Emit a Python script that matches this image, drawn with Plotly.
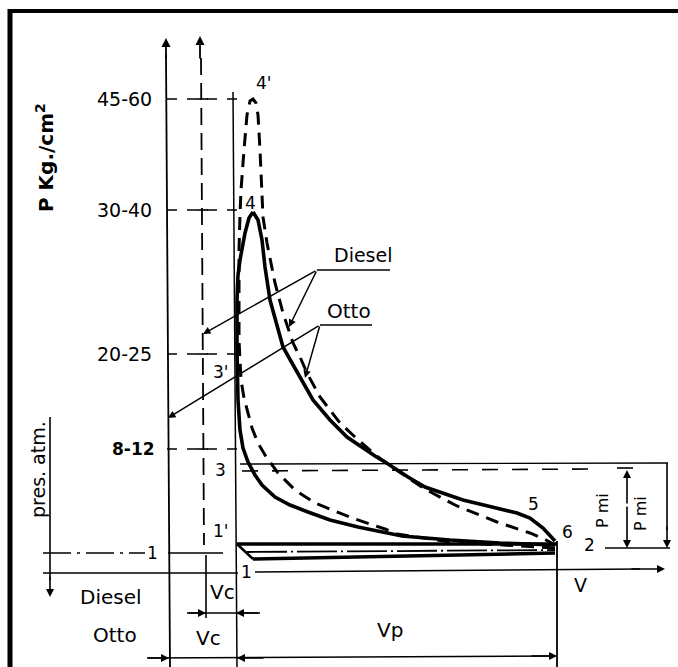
import plotly.graph_objects as go

# ---------------- data (drawing units: x = volume position, y = pressure position, measured downward) ----
level_labels = ["45-60", "30-40", "20-25", "8-12"]
level_y = [99, 210, 354, 449]
atm_y = 553
v_zero_y = 572

# Otto cycle (solid)
otto_comp_x = [555, 500, 450, 402, 358, 330, 308, 290, 275, 262, 255, 248, 243, 240, 238, 237, 237, 238, 240, 245, 249, 253]
otto_comp_y = [545, 543, 540, 536, 527, 520, 512, 505, 497, 485, 475, 462, 448, 430, 400, 350, 300, 275, 260, 233, 218, 212]
otto_exp_x = [253, 258, 262, 265, 270, 277, 283, 292, 302, 313, 330, 347, 375, 385, 408, 425, 463, 500, 517, 530, 543, 555]
otto_exp_y = [212, 220, 240, 267, 300, 327, 347, 363, 380, 400, 420, 437, 456, 462, 477, 487, 500, 509, 513, 518, 528, 541]

# Diesel cycle (dashed)
diesel_x = [555, 450, 397, 385, 352, 315, 295, 278, 265, 258, 252, 248, 244, 241, 239, 239, 239, 240, 241, 244, 247, 250, 253,
            256, 258, 260, 262, 263, 267, 270, 275, 283, 288, 293, 300, 307, 320, 330, 340, 355, 378, 385, 423, 457, 497, 530, 548, 555]
diesel_y = [548, 542, 534, 529, 518, 503, 490, 473, 455, 443, 428, 413, 398, 380, 340, 300, 250, 215, 190, 150, 115, 101, 99,
            103, 115, 150, 190, 217, 243, 257, 283, 313, 328, 343, 357, 373, 397, 410, 423, 437, 457, 462, 488, 506, 522, 533, 541, 545]

# intake / exhaust strokes
stroke_start_x = [237, 247, 253]
stroke_start_y = [544, 552, 559]
stroke_end_x = [557, 555, 555]
stroke_end_y = [544, 550, 553]

# mean indicated pressure levels
pmi_otto_y = 463
pmi_diesel_y = 469
pmi_base_y = 548

# boundaries of volumes
v_axis_otto_x = 167
v_axis_diesel_x = 203
v_clear_x = 236
v_stroke_end_x = 557

point_labels = ["4'", "4", "3'", "3", "1'", "1", "1", "5", "6", "2"]

# ---------------- figure ----------------
fig = go.Figure()


def line(xs, ys, w=1.6, dash="solid"):
    fig.add_trace(go.Scatter(x=xs, y=ys, mode="lines", hoverinfo="skip",
                             line=dict(color="black", width=w, dash=dash)))


def arrow(x, y, ax, ay, w=1.6, head=2, size=1.0):
    fig.add_annotation(x=x, y=y, ax=ax, ay=ay, xref="x", yref="y", axref="x", ayref="y",
                       text="", showarrow=True, arrowhead=head, arrowsize=size,
                       arrowwidth=w, arrowcolor="black")


def text(x, y, s, size=18, angle=0, bold=False):
    fig.add_annotation(x=x, y=y, xref="x", yref="y", text=("<b>%s</b>" % s) if bold else s,
                       showarrow=False, textangle=angle, xanchor="center", yanchor="middle",
                       font=dict(family="DejaVu Sans", size=size, color="black"))


# frame
line([10, 10], [9, 667], w=5)
line([8, 678], [11, 11], w=4)

# pressure axes
line([v_axis_otto_x - 1, v_axis_otto_x + 3], [55, 667], w=1.8)
arrow(v_axis_otto_x - 1, 38, v_axis_otto_x - 1, 60, w=1.8)
line([v_axis_diesel_x - 2, v_axis_diesel_x + 1], [58, 545], w=1.8, dash="17px,8px")
arrow(v_axis_diesel_x - 3, 36, v_axis_diesel_x - 3, 60, w=1.8)
line([v_axis_diesel_x + 3, v_axis_diesel_x + 3], [555, 618], w=1.6)
line([v_clear_x - 3, v_clear_x + 1], [92, 667], w=1.5)

# pressure level tick lines
for yl in level_y:
    line([v_axis_otto_x, v_clear_x + 2], [yl, yl], w=1.6, dash="10px,10px")
    line([v_axis_diesel_x - 6, v_axis_diesel_x + 5], [yl, yl], w=1.6)
for lab, yl in zip(level_labels, level_y):
    text(124 if lab != "8-12" else 133, yl, lab, size=19 if lab != "8-12" else 17, bold=(lab == "8-12"))

# atmospheric pressure and zero lines
line([43, 145], [atm_y, atm_y], w=1.6, dash="28px,6px,3px,6px")
line([168, 223], [atm_y, atm_y], w=1.6)
line([43, v_clear_x + 2], [v_zero_y + 1, v_zero_y + 1], w=1.6)
line([255, 640], [v_zero_y, v_zero_y - 3], w=1.6)
arrow(665, v_zero_y - 3, 630, v_zero_y - 3, w=1.6)
line([50, 50], [417, 580], w=1.6)
arrow(50, 597, 50, 575, w=1.6)

# cycles
line(otto_comp_x, otto_comp_y, w=3.6)
line(otto_exp_x, otto_exp_y, w=3.6)
line(diesel_x, diesel_y, w=3.0, dash="13px,8px")
for x0, y0, x1, y1, w, d in zip(stroke_start_x, stroke_start_y, stroke_end_x, stroke_end_y,
                                [3.5, 1.8, 3.5], ["solid", "40px,4px,2px,4px", "solid"]):
    line([x0, x1], [y0, y1], w=w, dash=d)
line([stroke_start_x[0], stroke_start_x[2]], [stroke_start_y[0], stroke_start_y[2]], w=2.5)
line([v_stroke_end_x, v_stroke_end_x], [541, 667], w=1.8)

# mean pressure lines and dimension arrows
line([240, 668], [pmi_otto_y + 1, pmi_otto_y], w=1.4)
line([242, 593], [pmi_diesel_y + 2, pmi_diesel_y], w=1.6, dash="16px,14px")
line([605, 670], [pmi_base_y, pmi_base_y], w=1.6)
line([667, 667], [pmi_otto_y, 530], w=1.6)
arrow(667, pmi_base_y, 667, 525, w=1.6)
line([617, 633], [pmi_diesel_y - 1, pmi_diesel_y - 1], w=1.6)
arrow(627, pmi_diesel_y + 1, 627, 505, w=1.6)
arrow(627, pmi_base_y, 627, 505, w=1.6)
text(602, 511, "P mi", size=16, angle=-90)
text(640, 514, "P mi", size=16, angle=-90)

# volume dimension lines
line([187, 260], [613, 613], w=1.6)
arrow(v_axis_diesel_x + 3, 613, 187, 613, w=1.6)
arrow(v_clear_x, 613, 260, 613, w=1.6)
line([147, v_stroke_end_x], [658, 656], w=1.6)
arrow(v_axis_otto_x + 2, 658, 147, 658, w=1.6)
arrow(v_clear_x + 1, 658, 265, 658, w=1.6)
arrow(v_stroke_end_x, 656, 530, 656, w=1.6)

# leaders
line([317, 390], [270, 270], w=1.6)
line([320, 372], [325, 325], w=1.6)
arrow(203, 334, 317, 270, w=1.5)
arrow(289, 327, 317, 270, w=1.5)
arrow(168, 418, 320, 325, w=1.5)
arrow(305, 378, 320, 325, w=1.5)
text(363, 255, "Diesel", size=19)
text(349, 311, "Otto", size=20)

# point labels
for lab, (px, py) in zip(point_labels, [(264, 83), (250, 203), (221, 372), (220, 470), (221, 531),
                                        (152, 553), (246, 572), (533, 504), (567, 532), (589, 545)]):
    text(px, py, lab, size=17)

# axis captions
text(45, 158, "P Kg./cm<sup>2</sup>", size=20, angle=-90, bold=True)
text(38, 470, "pres. atm.", size=19, angle=-90)
text(111, 597, "Diesel", size=20)
text(115, 635, "Otto", size=20)
text(222, 592, "Vc", size=20)
text(208, 638, "Vc", size=20)
text(390, 630, "Vp", size=20)
text(580, 585, "V", size=19)

fig.update_layout(width=678, height=667, margin=dict(l=0, r=0, t=0, b=0),
                  paper_bgcolor="white", plot_bgcolor="white", showlegend=False,
                  xaxis=dict(range=[0, 678], visible=False, fixedrange=True),
                  yaxis=dict(range=[667, 0], visible=False, fixedrange=True))
fig.write_html("out.html", config={"displayModeBar": False},
               post_script="document.body.style.margin='0';document.body.style.overflow='hidden';")
